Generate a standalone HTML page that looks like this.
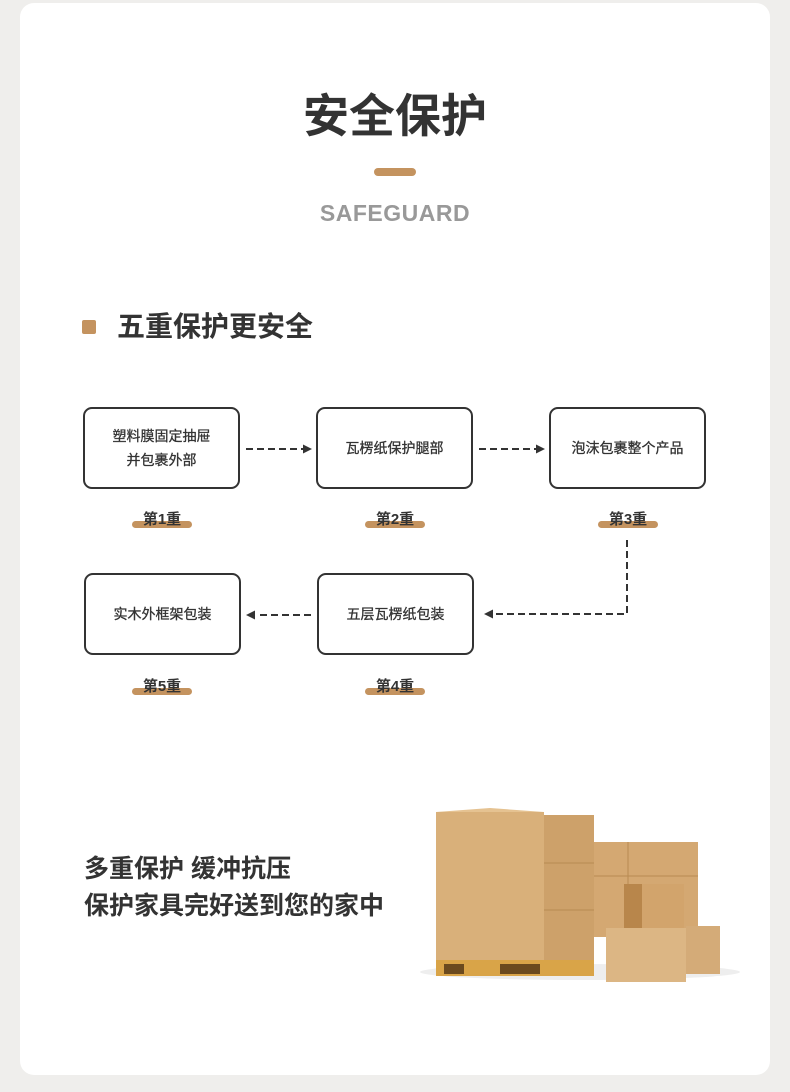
<!DOCTYPE html>
<html><head><meta charset="utf-8"><style>
html,body{margin:0;padding:0}
body{width:790px;height:1092px;background:#efeeec;position:relative;overflow:hidden;font-family:"Liberation Sans","Noto Sans CJK SC",sans-serif;color:#333}
.card{position:absolute;left:20px;top:3px;width:750px;height:1072px;background:#fff;border-radius:14px}
.abs{position:absolute}
.box{position:absolute;border:2px solid #333;border-radius:9px;box-sizing:border-box;display:flex;align-items:center;justify-content:center;text-align:center;font-size:14px;line-height:24px;color:#333;width:157px;height:82px;-webkit-text-stroke:0.3px #333}
.lab{position:absolute;width:60px;text-align:center;font-size:15px;font-weight:bold;color:#333}
.lab::before{content:"";position:absolute;left:0;right:0;top:13px;height:7px;background:#c4935f;border-radius:4px;z-index:-1}
.lab span{position:relative}
</style></head><body>
<div class="card"></div>
<div class="abs" style="left:0;width:790px;top:86px;text-align:center;font-size:46px;font-weight:bold;color:#333;line-height:60px">安全保护</div>
<div class="abs" style="left:374px;top:168px;width:42px;height:8px;background:#c4935f;border-radius:4px"></div>
<div class="abs" style="left:0;width:790px;top:200px;text-align:center;font-size:23px;font-weight:bold;color:#999;letter-spacing:0.5px">SAFEGUARD</div>
<div class="abs" style="left:82px;top:320px;width:14px;height:14px;background:#c4935f;border-radius:2px"></div>
<div class="abs" style="left:117px;top:307px;font-size:28px;font-weight:bold;color:#333;line-height:40px">五重保护更安全</div>

<div class="box" style="left:83px;top:407px">塑料膜固定抽屉<br>并包裹外部</div>
<div class="box" style="left:316px;top:407px">瓦楞纸保护腿部</div>
<div class="box" style="left:549px;top:407px">泡沫包裹整个产品</div>
<div class="box" style="left:84px;top:573px">实木外框架包装</div>
<div class="box" style="left:317px;top:573px">五层瓦楞纸包装</div>

<div class="lab" style="left:132px;top:508px;z-index:1"><span>第1重</span></div>
<div class="lab" style="left:365px;top:508px;z-index:1"><span>第2重</span></div>
<div class="lab" style="left:598px;top:508px;z-index:1"><span>第3重</span></div>
<div class="lab" style="left:132px;top:675px;z-index:1"><span>第5重</span></div>
<div class="lab" style="left:365px;top:675px;z-index:1"><span>第4重</span></div>

<svg class="abs" style="left:0;top:0" width="790" height="1092">
<g stroke="#333" stroke-width="2" stroke-dasharray="7,4" fill="none">
<line x1="246" y1="449" x2="304" y2="449"/>
<line x1="479" y1="449" x2="537" y2="449"/>
<polyline points="627,540 627,614 494,614"/>
<line x1="311" y1="615" x2="256" y2="615"/>
</g>
<g fill="#333">
<polygon points="312,449 303,444.5 303,453.5"/>
<polygon points="545,449 536,444.5 536,453.5"/>
<polygon points="484,614 493,609.5 493,618.5"/>
<polygon points="246,615 255,610.5 255,619.5"/>
</g>
<ellipse cx="580" cy="972" rx="160" ry="8" fill="#eee"/>
<rect x="436" y="958" width="158" height="18" fill="#d9a448"/>
<rect x="444" y="964" width="20" height="10" fill="#6b4a1e"/>
<rect x="500" y="964" width="40" height="10" fill="#6b4a1e"/>
<rect x="436" y="812" width="108" height="148" fill="#d9b07a"/>
<polygon points="436,812 490,808 544,812" fill="#e5c291"/>
<rect x="544" y="815" width="50" height="145" fill="#cda16a"/>
<line x1="544" y1="863" x2="594" y2="863" stroke="#b88a52"/>
<line x1="544" y1="910" x2="594" y2="910" stroke="#b88a52"/>
<rect x="594" y="842" width="104" height="95" fill="#d4a872"/>
<line x1="594" y1="876" x2="698" y2="876" stroke="#b88a52"/>
<line x1="628" y1="842" x2="628" y2="937" stroke="#b88a52"/>
<rect x="686" y="926" width="34" height="48" fill="#d4ab78"/>
<rect x="624" y="884" width="60" height="44" fill="#d2a46c"/>
<rect x="624" y="884" width="18" height="44" fill="#b8864b"/>
<rect x="606" y="928" width="80" height="54" fill="#dcb684"/>
</svg>

<div class="abs" style="left:84px;top:851px;font-size:25px;font-weight:bold;color:#333;line-height:37px">多重保护 缓冲抗压<br>保护家具完好送到您的家中</div>
</body></html>
